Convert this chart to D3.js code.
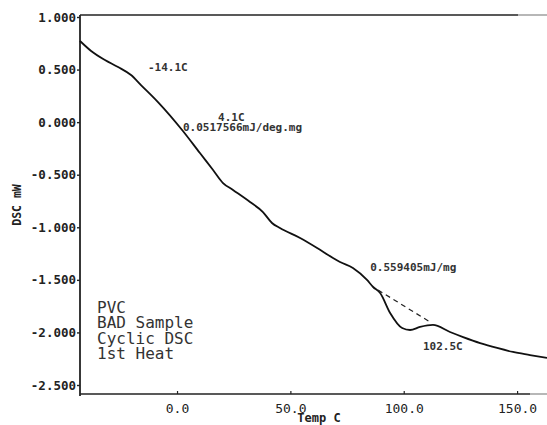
<!DOCTYPE html>
<html><head><meta charset="utf-8">
<script src="https://cdn.jsdelivr.net/npm/d3@7"></script>
<style>body{margin:0;background:#fff;} svg{display:block;}</style>
</head><body>
<svg id="c" width="547" height="425"></svg>
<script>
// ---- data ----
const tempC = [-42.8,-37.9,-31.8,-26.0,-20.3,-15.9,-8.4,2.6,10.1,15.9,20.3,24.7,32.2,37.9,41.9,45.4,54.3,61.8,68.8,71.9,77.6,83.8,86.5,89.6,94.0,99.3,102.8,107.2,112.9,120.4,126.2,133.7,141.2,148.2,155.7,163.2];
const dscMW = [0.772,0.677,0.591,0.524,0.448,0.353,0.191,-0.084,-0.294,-0.455,-0.579,-0.645,-0.759,-0.855,-0.959,-1.007,-1.102,-1.197,-1.292,-1.330,-1.387,-1.501,-1.568,-1.625,-1.815,-1.958,-1.977,-1.948,-1.929,-1.996,-2.044,-2.101,-2.148,-2.186,-2.215,-2.243];
const baselineT = [88.7,112.4];
const baselineV = [-1.597,-1.911];
const xTicks = [0,50,100,150];
const xTickLabels = ["0.0","50.0","100.0","150.0"];
const yTicks = [1.0,0.5,0.0,-0.5,-1.0,-1.5,-2.0,-2.5];
const yTickLabels = ["1.000","0.500","0.000","-0.500","-1.000","-1.500","-2.000","-2.500"];
const annotations = [
  {text:"-14.1C", t:-12.8, v:0.515},
  {text:"4.1C", t:18.1, v:0.04},
  {text:"0.0517566mJ/deg.mg", t:2.6, v:-0.055},
  {text:"0.559405mJ/mg", t:85.2, v:-1.385},
  {text:"102.5C", t:108.5, v:-2.13}
];
const legendLines = ["PVC","BAD Sample","Cyclic DSC","1st Heat"];
const xTitle = "Temp C", yTitle = "DSC mW";

// ---- chart ----
const svg = d3.select("#c");
const x = d3.scaleLinear().domain([-42.8,163.2]).range([80,547]);
const y = d3.scaleLinear().domain([-2.5,1.0]).range([385,17]);
const frameTop = 15, frameBottom = 394;

// frame lines
svg.append("line").attr("x1",80).attr("x2",518).attr("y1",frameTop).attr("y2",frameTop).attr("stroke","#222").attr("stroke-width",1.6);
svg.append("line").attr("x1",518).attr("x2",547).attr("y1",frameTop).attr("y2",frameTop).attr("stroke","#999").attr("stroke-width",1.4);
svg.append("line").attr("x1",80).attr("x2",530).attr("y1",frameBottom).attr("y2",frameBottom).attr("stroke","#222").attr("stroke-width",1.6);
svg.append("line").attr("x1",530).attr("x2",547).attr("y1",frameBottom).attr("y2",frameBottom).attr("stroke","#999").attr("stroke-width",1.4);

// y axis
const yAxis = d3.axisLeft(y).tickValues(yTicks).tickFormat((d,i)=>yTickLabels[i]).tickSize(3).tickPadding(1);
const gy = svg.append("g").attr("transform","translate(80,0)").call(yAxis);
gy.select(".domain").remove();
gy.append("line").attr("x1",0).attr("x2",0).attr("y1",frameTop).attr("y2",frameBottom+2).attr("stroke","#222").attr("stroke-width",1.8);
gy.selectAll(".tick line").attr("stroke","#222").attr("stroke-width",1.4);
gy.selectAll(".tick text").attr("font-family","DejaVu Sans Mono").attr("font-size",12.5).attr("font-weight","bold").attr("fill","#222");

// x axis
const xAxis = d3.axisBottom(x).tickValues(xTicks).tickFormat((d,i)=>xTickLabels[i]).tickSize(-3).tickPadding(10);
const gx = svg.append("g").attr("transform",`translate(0,${frameBottom})`).call(xAxis);
gx.select(".domain").remove();
gx.selectAll(".tick line").attr("stroke","#222").attr("stroke-width",1.2);
gx.selectAll(".tick text").attr("font-family","DejaVu Sans Mono").attr("font-size",13).attr("fill","#222");

// axis titles
svg.append("text").attr("x",319).attr("y",422).attr("text-anchor","middle")
  .attr("font-family","DejaVu Sans Mono").attr("font-size",12).attr("font-weight","bold").attr("fill","#222").text(xTitle);
svg.append("text").attr("transform","translate(21,205) rotate(-90)").attr("text-anchor","middle")
  .attr("font-family","DejaVu Sans Mono").attr("font-size",11.5).attr("font-weight","bold").attr("fill","#222").text(yTitle);

// curve
const pts = tempC.map((t,i)=>[t,dscMW[i]]);
const line = d3.line().x(d=>x(d[0])).y(d=>y(d[1])).curve(d3.curveMonotoneX);
svg.append("path").attr("d",line(pts)).attr("fill","none").attr("stroke","#111").attr("stroke-width",1.8);

// dashed baseline
const bpts = baselineT.map((t,i)=>[t,baselineV[i]]);
svg.append("path").attr("d",d3.line().x(d=>x(d[0])).y(d=>y(d[1]))(bpts))
  .attr("fill","none").attr("stroke","#222").attr("stroke-width",1.2).attr("stroke-dasharray","5,4");

// annotations
svg.selectAll("text.ann").data(annotations).join("text").attr("class","ann")
  .attr("x",d=>x(d.t)).attr("y",d=>y(d.v)).attr("dominant-baseline","central")
  .attr("font-family","DejaVu Sans Mono").attr("font-size",11).attr("font-weight","bold").attr("fill","#333")
  .text(d=>d.text);

// legend text
svg.selectAll("text.leg").data(legendLines).join("text").attr("class","leg")
  .attr("x",97).attr("y",(d,i)=>313+i*15.3)
  .attr("font-family","DejaVu Sans Mono").attr("font-size",16).attr("fill","#333")
  .text(d=>d);
</script>
</body></html>
